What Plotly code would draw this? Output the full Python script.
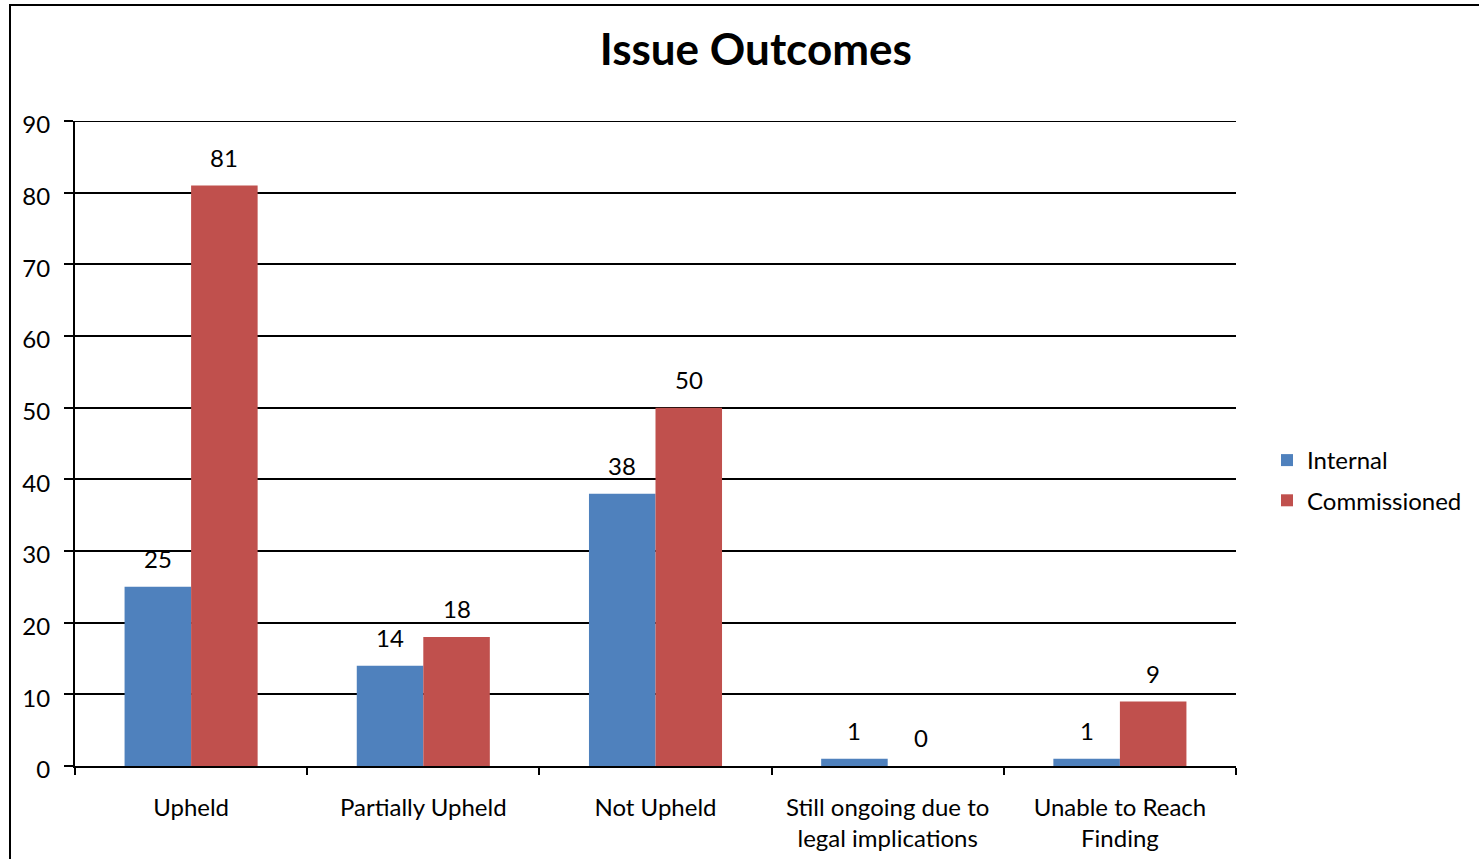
import plotly.graph_objects as go

categories = ["Upheld", "Partially Upheld", "Not Upheld",
              "Still ongoing due to<br>legal implications", "Unable to Reach<br>Finding"]
internal = [25, 14, 38, 1, 1]
commissioned = [81, 18, 50, 0, 9]

FONT = "Lato, 'Open Sans', sans-serif"
BLUE = "#4F81BD"
RED = "#C0504D"

L, R, T, B = 75, 243, 121, 93
W, H = 1479, 859
pw, ph = W - L - R, H - T - B
BARGAP = 0.427
bar_px = pw / len(categories) * (1 - BARGAP) / 2


def px_x(p):
    return (p - L) / pw


def px_y(p):
    return (H - B - p) / ph


fig = go.Figure()
fig.add_trace(go.Bar(
    name="Internal", x=categories, y=internal, legendgroup="a",
    marker=dict(color=BLUE, line=dict(width=0)),
))
fig.add_trace(go.Bar(
    name="Commissioned", x=categories, y=commissioned, legendgroup="b",
    marker=dict(color=RED, line=dict(width=0)),
))

# value labels above each bar
annotations = []
for series, shift in ((internal, -bar_px / 2), (commissioned, bar_px / 2)):
    for cat, v in zip(categories, series):
        annotations.append(dict(
            x=cat, y=v, xref="x", yref="y", text=str(v), showarrow=False,
            xshift=shift, yshift=12, yanchor="bottom",
            font=dict(size=24, family=FONT, color="black"),
        ))

fig.update_layout(
    width=W, height=H,
    margin=dict(l=L, r=R, t=T, b=B, autoexpand=False),
    paper_bgcolor="white", plot_bgcolor="white",
    barmode="group", bargap=BARGAP, bargroupgap=0,
    font=dict(family=FONT, size=24, color="black"),
    title=dict(text="<b>Issue Outcomes</b>", x=0.511, xanchor="center",
               y=1 - 50 / H, yanchor="middle",
               font=dict(size=44, family=FONT, color="black")),
    legend=dict(x=px_x(1267), y=px_y(438), xanchor="left", yanchor="top",
                font=dict(size=24, family=FONT), itemwidth=30,
                traceorder="grouped", tracegroupgap=6,
                bgcolor="rgba(0,0,0,0)"),
    xaxis=dict(showline=True, linecolor="black", linewidth=2,
               ticks="outside", tickson="boundaries", ticklen=7,
               tickcolor="black", tickwidth=2, ticklabelstandoff=19,
               tickfont=dict(size=24, family=FONT), showgrid=False),
    yaxis=dict(range=[0, 90], dtick=10, showline=True, linecolor="black",
               linewidth=2, ticks="outside", ticklen=9, tickcolor="black",
               tickwidth=2, ticklabelstandoff=9, ticklabelshift=4,
               showgrid=True, gridcolor="black", gridwidth=2, zeroline=False,
               tickfont=dict(size=24, family=FONT)),
    annotations=annotations,
    shapes=[
        dict(type="rect", xref="paper", yref="paper",
             x0=px_x(10), x1=px_x(1495), y0=px_y(875), y1=px_y(5),
             line=dict(color="black", width=2), fillcolor="rgba(0,0,0,0)",
             layer="below"),
        # top gridline at the axis maximum
        dict(type="line", xref="paper", yref="y", x0=0, x1=1, y0=90, y1=90,
             line=dict(color="black", width=2)),
    ],
)

fig.write_html("out.html")
